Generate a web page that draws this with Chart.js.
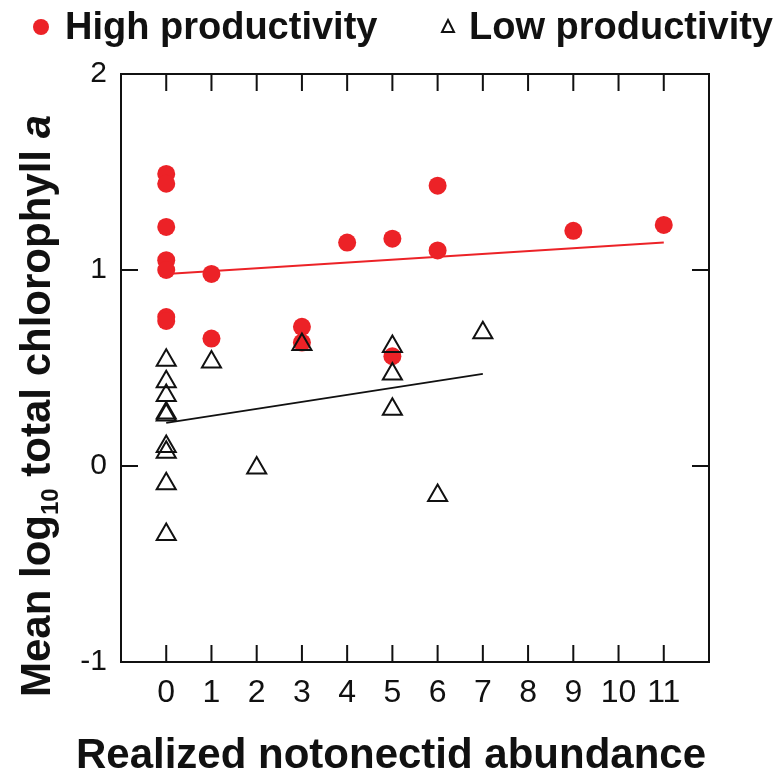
<!DOCTYPE html>
<html>
<head>
<meta charset="utf-8">
<script src="https://cdn.jsdelivr.net/npm/chart.js@4.4.1/dist/chart.umd.min.js"></script>
<style>
    html, body { margin: 0; padding: 0; background: #fff; }
    #wrap { position: relative; width: 784px; height: 780px; }
</style>
</head>
<body>
<div id="wrap"><canvas id="chart"></canvas></div>
<script>
// realized notonectid abundance (x) vs mean log10 total chlorophyll a (y)
const highX = [0, 0, 0, 0, 0, 0, 0, 1, 1, 3, 3, 4, 5, 5, 6, 6, 9, 11];
const highY = [1.49, 1.44, 1.22, 1.05, 1.00, 0.76, 0.74, 0.98, 0.65, 0.71, 0.63, 1.14, 1.16, 0.56, 1.43, 1.10, 1.20, 1.23];
const lowX = [0, 0, 0, 0, 0, 0, 0, 0, 0, 1, 2, 3, 5, 5, 5, 6, 7];
const lowY = [0.54, 0.43, 0.36, 0.27, 0.26, 0.10, 0.07, -0.09, -0.35, 0.53, -0.01, 0.62, 0.61, 0.47, 0.29, -0.15, 0.68];

// fitted lines, end points
const highFitX = [0, 11];
const highFitY = [0.98, 1.14];
const lowFitX = [0, 7];
const lowFitY = [0.22, 0.47];

const xTicks = [0, 1, 2, 3, 4, 5, 6, 7, 8, 9, 10, 11];
const yTicks = [-1, 0, 1, 2];

const FONT = '"Liberation Sans", Arial, sans-serif';
const RED = '#ec2227';
const INK = '#111';

function pts(xs, ys) {
    return xs.map((v, i) => ({ x: v, y: ys[i] }));
}

// box round the plot with inward ticks on all four sides
const boxTicks = {
    id: 'boxTicks',
    beforeDatasetsDraw(chart) {
        const { ctx, chartArea: a, scales: { x, y } } = chart;
        const len = 17;
        ctx.save();
        ctx.strokeStyle = INK;
        ctx.lineWidth = 2;
        ctx.strokeRect(a.left, a.top, a.width, a.height);
        ctx.beginPath();
        xTicks.forEach(v => {
            const px = x.getPixelForValue(v);
            ctx.moveTo(px, a.bottom); ctx.lineTo(px, a.bottom - len);
            ctx.moveTo(px, a.top); ctx.lineTo(px, a.top + len);
        });
        yTicks.forEach(v => {
            const py = y.getPixelForValue(v);
            ctx.moveTo(a.left, py); ctx.lineTo(a.left + len, py);
            ctx.moveTo(a.right, py); ctx.lineTo(a.right - len, py);
        });
        ctx.stroke();
        ctx.restore();
    }
};

// legend along the top and the two axis titles
const labels = {
    id: 'labels',
    afterDraw(chart) {
        const { ctx } = chart;
        ctx.save();
        ctx.fillStyle = INK;
        ctx.textBaseline = 'alphabetic';

        // legend
        ctx.font = 'bold 38px ' + FONT;
        ctx.textAlign = 'left';
        ctx.fillStyle = RED;
        ctx.beginPath();
        ctx.arc(41, 27, 8, 0, Math.PI * 2);
        ctx.fill();
        ctx.fillStyle = INK;
        ctx.fillText('High productivity', 65, 39);

        ctx.strokeStyle = INK;
        ctx.lineWidth = 2;
        ctx.beginPath();
        ctx.moveTo(448, 20); ctx.lineTo(454, 32); ctx.lineTo(442, 32); ctx.closePath();
        ctx.stroke();
        ctx.fillText('Low productivity', 469, 39);

        // x title
        ctx.textAlign = 'center';
        ctx.font = 'bold 42px ' + FONT;
        ctx.fillText('Realized notonectid abundance', 391, 768);

        // y title, rotated, with subscript and italic a
        const parts = [
            { t: 'Mean log', f: 'bold 42px ' + FONT, dy: 0 },
            { t: '10', f: 'bold 24px ' + FONT, dy: 8 },
            { t: ' total chlorophyll ', f: 'bold 42px ' + FONT, dy: 0 },
            { t: 'a', f: 'italic bold 42px ' + FONT, dy: 0 }
        ];
        let total = 0;
        parts.forEach(p => { ctx.font = p.f; p.w = ctx.measureText(p.t).width; total += p.w; });
        ctx.translate(50, 406);
        ctx.rotate(-Math.PI / 2);
        ctx.textAlign = 'left';
        let cx = -total / 2;
        parts.forEach(p => {
            ctx.font = p.f;
            ctx.fillText(p.t, cx, p.dy);
            cx += p.w;
        });
        ctx.restore();
    }
};

new Chart(document.getElementById('chart'), {
    type: 'scatter',
    data: {
        datasets: [
            {
                label: 'Low productivity',
                data: pts(lowX, lowY),
                pointStyle: 'triangle',
                pointRadius: 11,
                pointHoverRadius: 11,
                pointBorderWidth: 2,
                pointBackgroundColor: 'rgba(255,255,255,0)',
                pointBorderColor: INK,
                order: 1
            },
            {
                label: 'High productivity',
                data: pts(highX, highY),
                pointStyle: 'circle',
                pointRadius: 9,
                pointHoverRadius: 9,
                pointBorderWidth: 0,
                pointBackgroundColor: RED,
                pointBorderColor: RED,
                order: 2
            },
            {
                label: 'High fit',
                data: pts(highFitX, highFitY),
                showLine: true,
                borderColor: RED,
                borderWidth: 2,
                pointRadius: 0,
                order: 3
            },
            {
                label: 'Low fit',
                data: pts(lowFitX, lowFitY),
                showLine: true,
                borderColor: INK,
                borderWidth: 2,
                pointRadius: 0,
                order: 3
            }
        ]
    },
    options: {
        responsive: true,
        maintainAspectRatio: false,
        animation: false,
        layout: { padding: { top: 74, right: 75, left: 0, bottom: 0 } },
        plugins: {
            legend: { display: false },
            tooltip: { enabled: false }
        },
        scales: {
            x: {
                type: 'linear',
                min: -1,
                max: 12,
                afterFit: s => { s.height = 118; },
                afterBuildTicks: s => { s.ticks = xTicks.map(v => ({ value: v })); },
                grid: { display: false },
                border: { display: false },
                ticks: {
                    color: INK,
                    padding: 4,
                    font: { family: FONT, size: 32 }
                }
            },
            y: {
                min: -1,
                max: 2,
                afterFit: s => { s.width = 121; },
                afterBuildTicks: s => { s.ticks = yTicks.map(v => ({ value: v })); },
                grid: { display: false },
                border: { display: false },
                ticks: {
                    color: INK,
                    padding: 6,
                    font: { family: FONT, size: 30 }
                }
            }
        }
    },
    plugins: [boxTicks, labels]
});
</script>
</body>
</html>
